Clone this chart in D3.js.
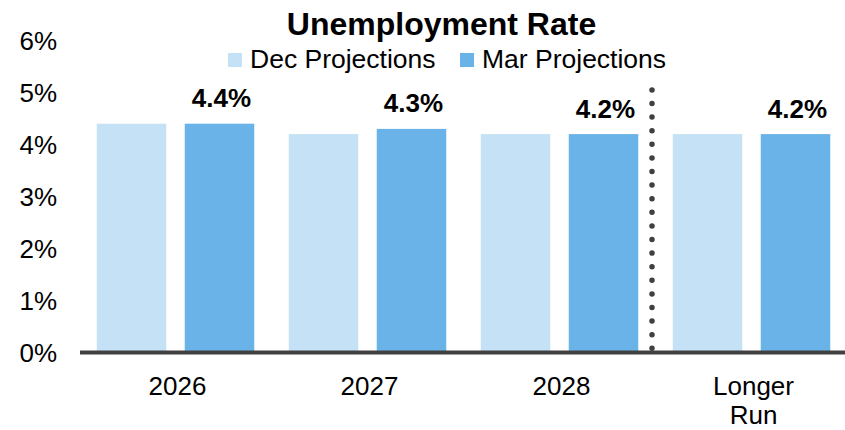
<!DOCTYPE html>
<html><head><meta charset="utf-8">
<script src="https://cdn.jsdelivr.net/npm/d3@7/dist/d3.min.js"></script>
<style>body{margin:0;background:#fff}svg{display:block}text{font-family:Arial,"Liberation Sans",sans-serif}</style>
</head><body>
<svg id="c" width="845" height="430"></svg>
<script>
const categories = ["2026", "2027", "2028", "Longer Run"];
const seriesNames = ["Dec Projections", "Mar Projections"];
const decValues = [4.4, 4.2, 4.2, 4.2];
const marValues = [4.4, 4.3, 4.2, 4.2];
const yTicks = [0, 1, 2, 3, 4, 5, 6];
const title = "Unemployment Rate";

const colors = {"Dec Projections": "#c5e1f5", "Mar Projections": "#69b3e8"};
const svg = d3.select("#c");
const x = d3.scaleBand().domain(categories).range([79.5, 847.5]).padding(0);
const xs = d3.scaleBand().domain(seriesNames).range([0, x.bandwidth()]).paddingInner(0.21).paddingOuter(0.196);
const y = d3.scaleLinear().domain([0, 6]).range([352.5, 40.5]);

const rows = categories.map((c, i) => ({cat: c, vals: [{s: seriesNames[0], v: decValues[i]}, {s: seriesNames[1], v: marValues[i]}], mar: marValues[i]}));

// bars
const g = svg.append("g").selectAll("g").data(rows).join("g").attr("transform", d => `translate(${x(d.cat)},0)`);
g.selectAll("rect").data(d => d.vals).join("rect")
  .attr("x", d => xs(d.s)).attr("width", xs.bandwidth())
  .attr("y", d => y(d.v)).attr("height", d => y(0) - y(d.v))
  .attr("fill", d => colors[d.s]);

// data labels (Mar)
g.append("text").attr("x", xs(seriesNames[1]) + xs.bandwidth() / 2 + 2)
  .attr("y", d => y(d.mar) - 16.5).attr("text-anchor", "middle")
  .attr("font-size", 26).attr("font-weight", "bold").attr("fill", "#000")
  .text(d => d.mar.toFixed(1) + "%");

// y axis
const yAxis = d3.axisLeft(y).tickValues(yTicks).tickFormat(d => d + "%").tickSize(0).tickPadding(0);
const ya = svg.append("g").attr("transform", "translate(57,0)").call(yAxis);
ya.select(".domain").remove();
ya.selectAll("text").attr("font-size", 26).attr("fill", "#000").attr("font-family", "Arial, 'Liberation Sans', sans-serif").attr("dy", "0.35em");

// baseline
svg.append("line").attr("x1", 80).attr("x2", 845).attr("y1", y(0)).attr("y2", y(0))
  .attr("stroke", "#404040").attr("stroke-width", 4);

// x labels
const xa = svg.append("g");
categories.forEach(c => {
  const words = c.split(" ");
  const t = xa.append("text").attr("x", x(c) + x.bandwidth() / 2 + 2).attr("y", 395)
    .attr("text-anchor", "middle").attr("font-size", 26).attr("fill", "#000");
  words.forEach((w, i) => t.append("tspan").attr("x", x(c) + x.bandwidth() / 2 + 2).attr("dy", i ? 29 : 0).text(w));
});

// dotted separator
const sepX = x("Longer Run") - 3.5;
svg.append("line").attr("x1", sepX).attr("x2", sepX).attr("y1", y(5.05)).attr("y2", y(0) - 4)
  .attr("stroke", "#404040").attr("stroke-width", 5.5).attr("stroke-linecap", "round")
  .attr("stroke-dasharray", "0 13.6");

// title
svg.append("text").attr("x", 441.5).attr("y", 35).attr("text-anchor", "middle")
  .attr("font-size", 32).attr("font-weight", "bold").attr("fill", "#000").text(title);

// legend
const legX = [228, 460];
seriesNames.forEach((s, i) => {
  svg.append("rect").attr("x", legX[i]).attr("y", 53).attr("width", 14).attr("height", 14).attr("fill", colors[s]);
  svg.append("text").attr("x", legX[i] + 22).attr("y", 68).attr("font-size", 26.5).attr("fill", "#000").text(s);
});
</script>
</body></html>
